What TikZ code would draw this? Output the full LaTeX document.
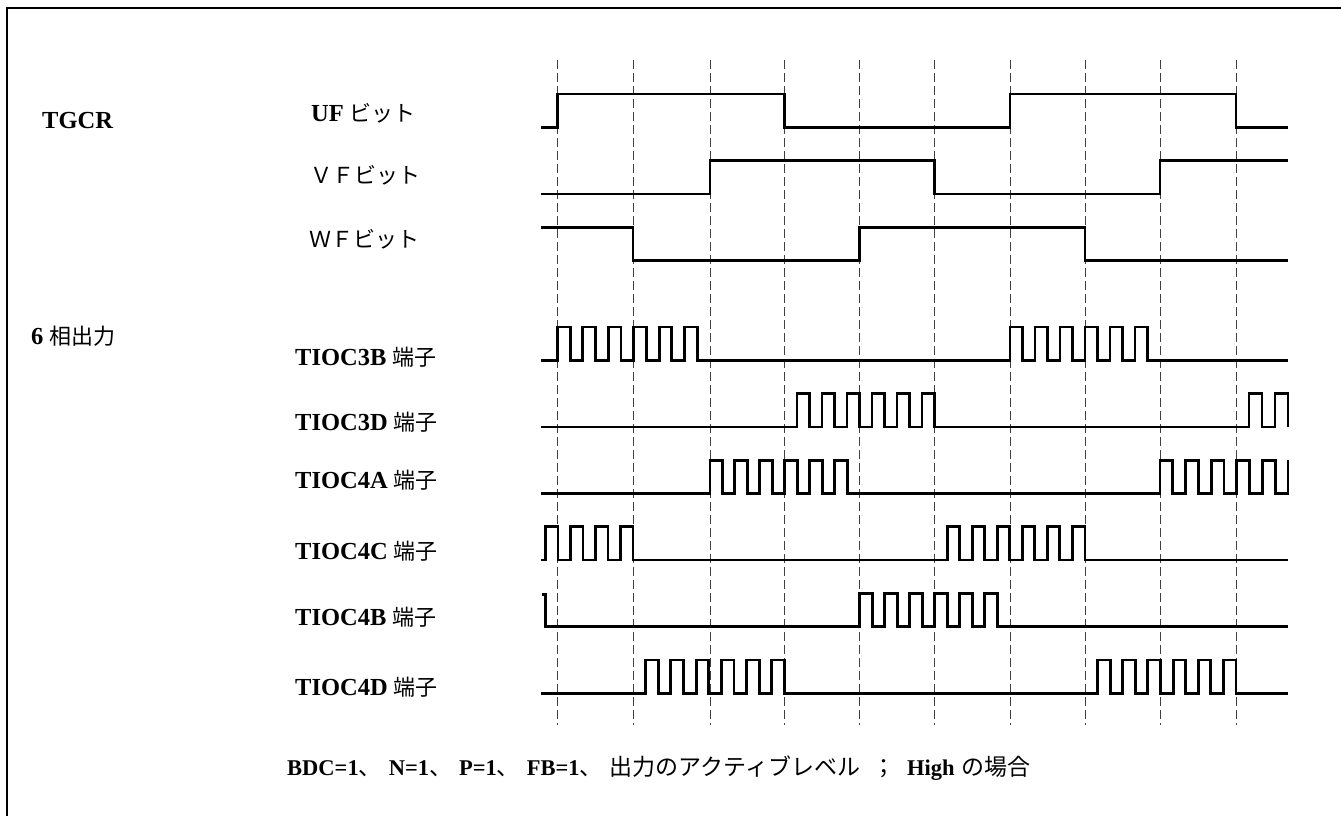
\documentclass[tikz,border=0pt]{standalone}
\usepackage{fontspec}
\setmainfont{Liberation Serif}
\newfontfamily\jp{Noto Sans CJK JP}
\newcommand\jt[1]{{\mdseries\jp\fontsize{22}{22}\selectfont #1}}
\newcommand\jf[1]{{\mdseries\jp\fontsize{23}{23}\selectfont #1}}
\begin{document}
\begin{tikzpicture}[x=1pt,y=-1pt]
\tikzset{
  wave/.style={line width=2.9pt, line join=miter, draw=black},
  guide/.style={draw=black!75, line width=1pt, dash pattern=on 9pt off 4pt},
  lab/.style={anchor=west, inner sep=0pt, font=\fontsize{24.5}{24.5}\selectfont\bfseries},
  flab/.style={anchor=west, inner sep=0pt, font=\fontsize{22.5}{22.5}\selectfont\bfseries},
  jlab/.style={anchor=west, inner sep=0pt, font=\fontsize{22}{22}\selectfont\jp},
  frame/.style={draw=black, line width=2pt},
}
\fill[white] (0,0) rectangle (1341,816);
\useasboundingbox (0,0) rectangle (1341,816);

% frame
\coordinate (fTL) at (7,8);
\coordinate (fTR) at (1341,8);
\coordinate (fBL) at (7,816);
\draw[frame] (fTR) -- (fTL) -- (fBL);

% dashed guide lines
\foreach \x in {557.5,633,710,784.5,859.5,934.5,1010,1085,1160,1236}{
  \draw[guide] (\x,60) -- (\x,725);
}

% labels
\node[lab] (tgcr) at (42,120.5) {TGCR};
\node[lab] (uf) at (311,113) {UF \jt{ビット}};
\node[jlab] (vf) at (310,175.5) {ＶＦビット};
\node[jlab] (wf) at (309,239.5) {ＷＦビット};
\node[lab] (six) at (31,336.5) {6 \jt{相出力}};
\node[lab] (t3b) at (295,357) {TIOC3B \jt{端子}};
\node[lab] (t3d) at (295,422) {TIOC3D \jt{端子}};
\node[lab] (t4a) at (295,480.5) {TIOC4A \jt{端子}};
\node[lab] (t4c) at (295,551.5) {TIOC4C \jt{端子}};
\node[lab] (t4b) at (295,617.5) {TIOC4B \jt{端子}};
\node[lab] (t4d) at (295,687.5) {TIOC4D \jt{端子}};
\node[flab] (foot) at (287,768) {BDC=1\jf{、}\hspace{7pt}N=1\jf{、}\hspace{7pt}P=1\jf{、}\hspace{7pt}FB=1\jf{、}\hspace{7pt}\jf{出力のアクティブレベル}\hspace{12pt}\jf{；}\hspace{12pt}High\hspace{7pt}\jf{の場合}};

% UF
\draw[wave] (541,127.3) -- (557.5,127.3) -- (557.5,94) -- (784.5,94) -- (784.5,127.3)
  -- (1010,127.3) -- (1010,94) -- (1236,94) -- (1236,127.3) -- (1288,127.3);
% VF
\draw[wave] (541,194) -- (710,194) -- (710,160.7) -- (934.5,160.7) -- (934.5,194)
  -- (1160,194) -- (1160,160.7) -- (1288,160.7);
% WF
\draw[wave] (541,227.3) -- (633,227.3) -- (633,260.7) -- (859.5,260.7) -- (859.5,227.3)
  -- (1085,227.3) -- (1085,260.7) -- (1288,260.7);

% TIOC3B
\draw[wave] (541,360.3) -- (557.5,360.3)
  \foreach \i in {1,...,6}{ -- ++(0,-33.3) -- ++(12.7,0) -- ++(0,33.3) -- ++(12.7,0) }
  -- (1010,360.3)
  \foreach \i in {1,...,6}{ -- ++(0,-33.3) -- ++(12.5,0) -- ++(0,33.3) -- ++(12.5,0) }
  -- (1288,360.3);
% TIOC3D
\draw[wave] (541,427) -- (784.5,427)
  \foreach \i in {1,...,6}{ -- ++(12.5,0) -- ++(0,-33.3) -- ++(12.5,0) -- ++(0,33.3) }
  -- (1236,427) -- ++(13,0) -- ++(0,-33.3) -- ++(13,0) -- ++(0,33.3)
  -- ++(13,0) -- ++(0,-33.3) -- ++(13,0) -- ++(0,33.3);
% TIOC4A
\draw[wave] (541,493.7) -- (710,493.7)
  \foreach \i in {1,...,6}{ -- ++(0,-33.3) -- ++(12.46,0) -- ++(0,33.3) -- ++(12.46,0) }
  -- (1160,493.7)
  \foreach \i in {1,...,5}{ -- ++(0,-33.3) -- ++(12.8,0) -- ++(0,33.3) -- ++(12.8,0) }
  -- ++(0,-33.3);
% TIOC4C
\draw[wave] (541,560) -- (545.5,560)
  \foreach \i in {1,...,4}{ -- ++(0,-33.3) -- ++(12.5,0) -- ++(0,33.3) -- ++(12.5,0) }
  -- (934.5,560)
  \foreach \i in {1,...,6}{ -- ++(12.54,0) -- ++(0,-33.3) -- ++(12.54,0) -- ++(0,33.3) }
  -- (1288,560);
% TIOC4B
\draw[wave] (541.5,594.3) -- (545.5,594.3) -- (545.5,626.7) -- (859.5,626.7)
  \foreach \i in {1,...,6}{ -- ++(0,-33.3) -- ++(12.54,0) -- ++(0,33.3) -- ++(12.54,0) }
  -- (1288,626.7);
% TIOC4D
\draw[wave] (541,693.3) -- (633,693.3)
  \foreach \i in {1,...,6}{ -- ++(12.625,0) -- ++(0,-33.3) -- ++(12.625,0) -- ++(0,33.3) }
  -- (1085,693.3)
  \foreach \i in {1,...,6}{ -- ++(12.58,0) -- ++(0,-33.3) -- ++(12.58,0) -- ++(0,33.3) }
  -- (1288,693.3);
\end{tikzpicture}
\end{document}
